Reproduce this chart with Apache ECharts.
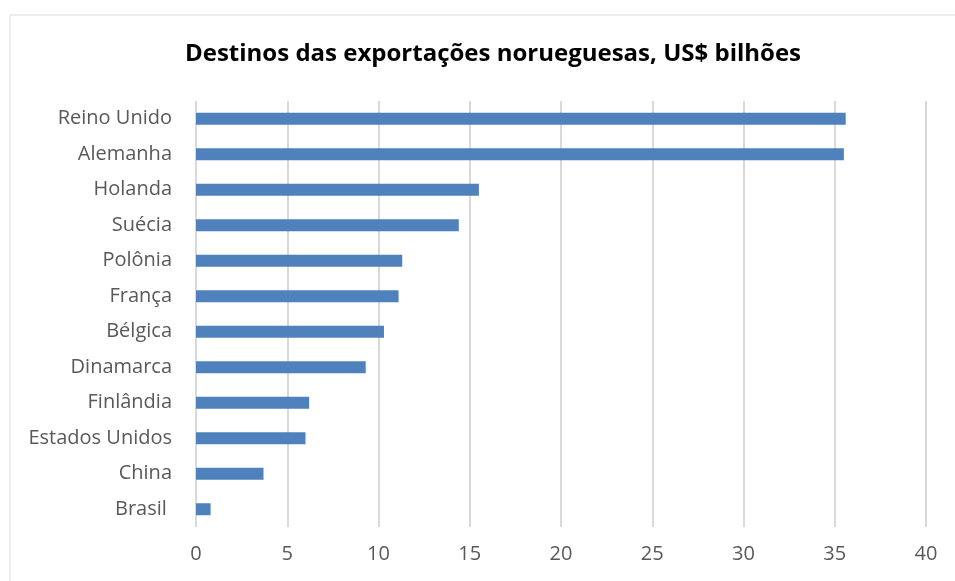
<!DOCTYPE html>
<html>
<head>
<meta charset="utf-8">
<script src="https://cdn.jsdelivr.net/npm/echarts@6/dist/echarts.min.js"></script>
<style>html,body{margin:0;padding:0;background:#fff;}#c{width:955px;height:581px;}</style>
</head>
<body>
<div id="c"></div>
<script>
const categories = ["Reino Unido","Alemanha","Holanda","Suécia","Polônia","França","Bélgica","Dinamarca","Finlândia","Estados Unidos","China","Brasil "];
const values = [35.6,35.5,15.5,14.4,11.3,11.1,10.3,9.3,6.2,6.0,3.7,0.8];
const xTicks = [0,5,10,15,20,25,30,35,40];

const chart = echarts.init(document.getElementById('c'), null, {renderer:'canvas'});
chart.setOption({
  animation: false,
  backgroundColor: '#ffffff',
  graphic: [{
    type: 'rect', left: 7.5, top: 12.5, silent: true,
    shape: {width: 960, height: 600},
    style: {fill: 'none', stroke: '#d9d9d9', lineWidth: 1}
  }],
  title: {
    text: 'Destinos das exportações norueguesas, US$ bilhões',
    left: 488, top: 37, textAlign: 'center',
    textStyle: {fontFamily: 'Open Sans', fontSize: 24, fontWeight: 'bold', color: '#000000'}
  },
  grid: {left: 196, right: 29, top: 101, bottom: 54, containLabel: false},
  xAxis: {
    type: 'value', min: 0, max: 40, interval: 5,
    axisLine: {show: false}, axisTick: {show: false},
    splitLine: {show: true, lineStyle: {color: '#d9d9d9', width: 2}},
    axisLabel: {
      margin: 17, color: '#595959', fontFamily: 'Open Sans', fontSize: 20,
      formatter: v => xTicks.includes(v) ? String(v) : ''
    }
  },
  yAxis: {
    type: 'category', data: categories, inverse: true,
    axisLine: {show: false}, axisTick: {show: false},
    axisLabel: {margin: 24, color: '#595959', fontFamily: 'Open Sans', fontSize: 20, padding: [3, 0, 0, 0]}
  },
  series: [{
    type: 'bar', data: values, barWidth: 12,
    itemStyle: {color: '#4f81bd'}
  }]
});
</script>
</body>
</html>
